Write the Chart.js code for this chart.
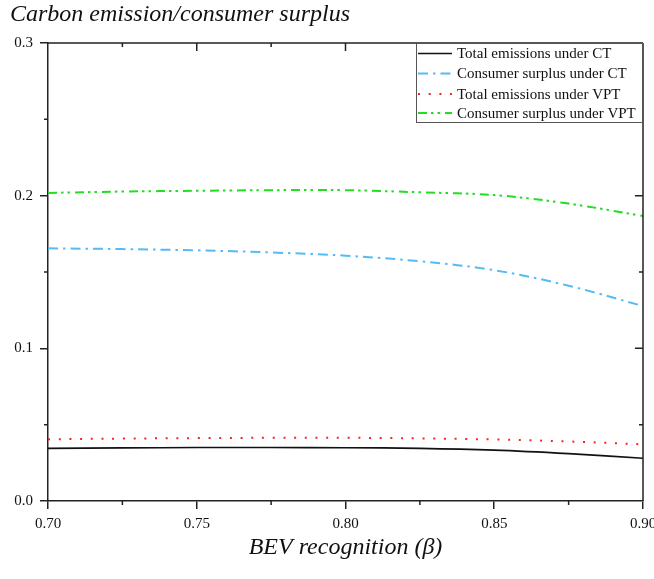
<!DOCTYPE html>
<html>
<head>
<meta charset="utf-8">
<script src="https://cdn.jsdelivr.net/npm/chart.js@4"></script>
<style>
  html, body { margin: 0; padding: 0; background: #fff; overflow: hidden; }
  body { width: 654px; height: 579px; }
  canvas { display: block; }
</style>
</head>
<body>
<canvas id="chart" width="664" height="579"></canvas>
<script>
// x values (BEV recognition beta)
const beta = [0.70, 0.725, 0.75, 0.775, 0.80, 0.825, 0.85, 0.875, 0.90];

// series
const emissionsCT = [0.0345, 0.0348, 0.0350, 0.0350, 0.0349, 0.0345, 0.0333, 0.0310, 0.0280];
const surplusCT   = [0.1655, 0.1650, 0.1642, 0.1628, 0.1607, 0.1570, 0.1512, 0.1410, 0.1277];
const emissionsVPT = [0.0404, 0.0409, 0.0412, 0.0414, 0.0414, 0.0410, 0.0403, 0.0390, 0.0371];
const surplusVPT  = [0.2018, 0.2027, 0.2032, 0.2036, 0.2036, 0.2022, 0.2004, 0.1948, 0.1867];

const seriesLabels = [
    "Total emissions under CT",
    "Consumer surplus under CT",
    "Total emissions under VPT",
    "Consumer surplus under VPT",
];

// minor tick positions
const xMinor = [0.725, 0.775, 0.825, 0.875];
const yMinor = [0.05, 0.15, 0.25];

const serif = "'Liberation Serif', 'DejaVu Serif', serif";

function toPoints(ys) {
    return beta.map((b, i) => ({ x: b, y: ys[i] }));
}

// draws top/right frame lines, mirrored ticks and minor ticks
const framePlugin = {
    id: "frame",
    afterDatasetsDraw(chart) {
        const { ctx, chartArea: a, scales } = chart;
        const xs = scales.x, ys = scales.y;
        ctx.save();
        ctx.strokeStyle = "#222";
        ctx.lineWidth = 1.5;
        ctx.beginPath();
        ctx.moveTo(a.left, a.top); ctx.lineTo(a.right, a.top);
        ctx.moveTo(a.right, a.top); ctx.lineTo(a.right, a.bottom);
        ctx.stroke();

        ctx.beginPath();
        // major ticks inward on top and right
        [0.75, 0.80, 0.85].forEach((v) => {
            const px = xs.getPixelForValue(v);
            ctx.moveTo(px, a.top); ctx.lineTo(px, a.top + 8);
        });
        [0.1, 0.2].forEach((v) => {
            const py = ys.getPixelForValue(v);
            ctx.moveTo(a.right, py); ctx.lineTo(a.right - 8, py);
        });
        // minor ticks
        xMinor.forEach((v) => {
            const px = xs.getPixelForValue(v);
            ctx.moveTo(px, a.top); ctx.lineTo(px, a.top + 4);
            ctx.moveTo(px, a.bottom); ctx.lineTo(px, a.bottom + 4);
        });
        yMinor.forEach((v) => {
            const py = ys.getPixelForValue(v);
            ctx.moveTo(a.right, py); ctx.lineTo(a.right - 4, py);
            ctx.moveTo(a.left, py); ctx.lineTo(a.left - 4, py);
        });
        ctx.stroke();
        ctx.restore();
    },
    afterDraw(chart) {
        // legend box in the top-right corner of the plot
        const { ctx, chartArea: a } = chart;
        const boxW = 227, boxH = 80;
        const bx = a.right - boxW, by = a.top;
        ctx.save();
        ctx.fillStyle = "#fff";
        ctx.fillRect(bx, by, boxW, boxH);
        ctx.strokeStyle = "#555";
        ctx.lineWidth = 1;
        ctx.strokeRect(bx + 0.5, by + 0.5, boxW - 1, boxH - 1);
        const rowY = [10.5, 30.5, 51, 70];
        ctx.font = "15px " + serif;
        ctx.textBaseline = "middle";
        chart.data.datasets.forEach((ds, i) => {
            const y = by + rowY[i];
            ctx.strokeStyle = ds.borderColor;
            ctx.lineWidth = ds.borderWidth;
            ctx.setLineDash(ds.borderDash || []);
            ctx.beginPath();
            ctx.moveTo(bx + 2, y);
            ctx.lineTo(bx + 36, y);
            ctx.stroke();
            ctx.setLineDash([]);
            ctx.fillStyle = "#111";
            ctx.fillText(ds.label, bx + 41, y + 1);
        });
        ctx.restore();
    },
};

new Chart(document.getElementById("chart"), {
    type: "line",
    data: {
        datasets: [
            {
                label: seriesLabels[0],
                data: toPoints(emissionsCT),
                borderColor: "#111",
                borderWidth: 1.6,
                borderDash: [],
            },
            {
                label: seriesLabels[1],
                data: toPoints(surplusCT),
                borderColor: "#55bbf5",
                borderWidth: 2,
                borderDash: [10, 5, 2.5, 5],
            },
            {
                label: seriesLabels[2],
                data: toPoints(emissionsVPT),
                borderColor: "#ff2020",
                borderWidth: 2,
                borderDash: [2, 8.7],
            },
            {
                label: seriesLabels[3],
                data: toPoints(surplusVPT),
                borderColor: "#22dd22",
                borderWidth: 2,
                borderDash: [9, 4, 2.5, 4, 2.5, 5],
            },
        ],
    },
    options: {
        responsive: false,
        animation: false,
        devicePixelRatio: 1,
        layout: { padding: { left: 10, right: 21, top: 0, bottom: 0 } },
        elements: {
            point: { radius: 0 },
            line: { tension: 0.35, fill: false },
        },
        plugins: {
            legend: { display: false },
            tooltip: { enabled: false },
            title: {
                display: true,
                text: "Carbon emission/consumer surplus",
                align: "start",
                color: "#111",
                font: { family: serif, size: 24, style: "italic", weight: "normal", lineHeight: 1.2 },
                padding: { top: 0, bottom: 14.2 },
            },
        },
        scales: {
            x: {
                type: "linear",
                min: 0.70,
                max: 0.90,
                afterFit: (scale) => { scale.height = 78; },
                ticks: {
                    stepSize: 0.05,
                    color: "#111",
                    padding: 6,
                    maxRotation: 0,
                    font: { family: serif, size: 15 },
                    callback: (v) => Number(v).toFixed(2),
                },
                grid: { display: true, drawOnChartArea: false, drawTicks: true, tickLength: 8, color: "#222", lineWidth: 1.5 },
                border: { display: true, color: "#222", width: 1.5 },
                title: {
                    display: true,
                    text: "BEV recognition (β)",
                    color: "#111",
                    font: { family: serif, size: 24, style: "italic", lineHeight: 1.2 },
                    padding: { top: 0, bottom: 16.6 },
                },
            },
            y: {
                type: "linear",
                min: 0,
                max: 0.3,
                afterFit: (scale) => { scale.width = 38; },
                ticks: {
                    stepSize: 0.1,
                    color: "#111",
                    padding: 7,
                    font: { family: serif, size: 15 },
                    callback: (v) => Number(v).toFixed(1),
                },
                grid: { display: true, drawOnChartArea: false, drawTicks: true, tickLength: 8, color: "#222", lineWidth: 1.5 },
                border: { display: true, color: "#222", width: 1.5 },
            },
        },
    },
    plugins: [framePlugin],
});
</script>
</body>
</html>
